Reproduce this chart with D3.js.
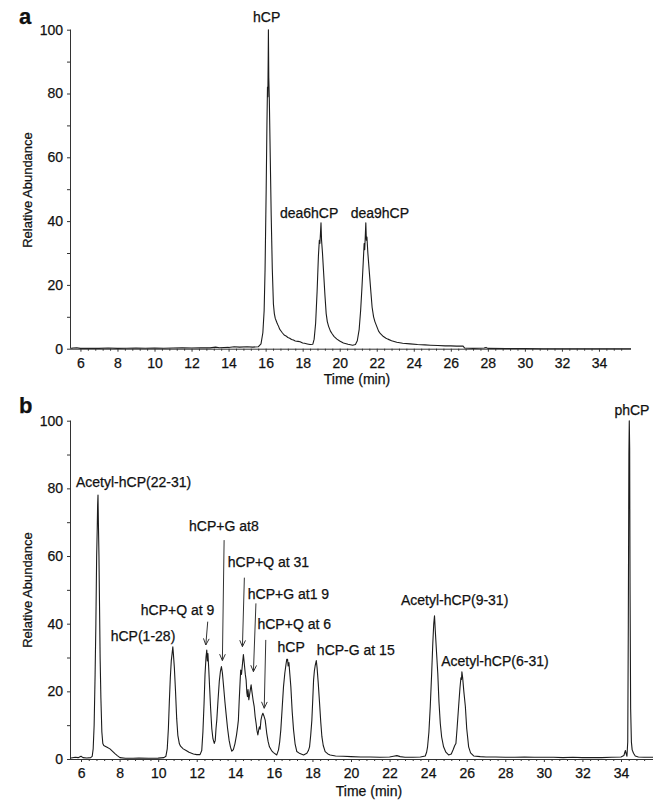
<!DOCTYPE html>
<html><head><meta charset="utf-8">
<script src="https://cdn.jsdelivr.net/npm/d3@7"></script>
<style>
body{margin:0;background:#fff}
text{font-family:"Liberation Sans",Arial,Helvetica,sans-serif;fill:#111;stroke:#111;stroke-width:0.25px}
</style>
</head><body>
<svg id="chart" width="669" height="809"></svg>
<script>
// ---------- DATA ----------
const xTicks = [6,8,10,12,14,16,18,20,22,24,26,28,30,32,34];
const yTicks = [0,20,40,60,80,100];
const yMinorTicks = [10,30,50,70,90];

// Panel a trace (time in min, relative abundance)
const timeA = [5.5,5.6,5.8,6.0,6.5,7.0,7.5,8.0,8.5,9.0,9.5,10.0,10.5,11.0,11.5,12.0,12.5,13.0,13.3,13.5,14.0,14.3,14.6,15.0,15.3,15.6,
 15.75,15.85,15.92,15.97,16.03,16.07,16.1,16.12,16.14,16.15,16.17,16.2,16.25,16.3,16.36,16.42,16.47,16.52,16.6,16.65,16.7,16.75,16.8,16.9,17.0,17.1,17.2,17.3,17.4,17.5,17.6,17.75,17.86,18.0,18.1,18.25,18.4,18.55,
 18.62,18.7,18.78,18.85,18.9,18.93,18.96,18.99,19.02,19.07,19.12,19.2,19.27,19.33,19.4,19.5,19.6,19.7,19.85,20.0,20.2,20.45,20.7,20.85,
 20.95,21.05,21.13,21.2,21.27,21.32,21.35,21.38,21.41,21.44,21.47,21.52,21.6,21.68,21.75,21.83,21.9,22.0,22.1,22.2,22.36,22.5,22.6,22.8,23.08,23.4,23.8,24.2,24.6,24.9,25.3,25.7,26.0,26.3,26.65,26.75,27.2,27.8,27.9,28.0,29.0,30.0,31.0,32.0,33.0,34.0,35.73];
const abundA = [0.1,0.2,0.3,0.1,0.15,0.1,0.2,0.1,0.15,0.2,0.15,0.2,0.15,0.2,0.25,0.2,0.3,0.25,0.5,0.3,0.4,0.6,0.5,0.6,0.5,0.6,
 1.5,5,12,25,50,70,82,79,92,100,85,78,60,42,25,14,11,9.5,8.3,7.6,7.0,6.2,5.8,5.0,4.3,4.0,3.5,3.3,2.9,2.7,2.4,2.3,2.2,1.8,1.7,1.5,1.3,1.4,
 3,8,18,29,34,33,36,39.5,34,30,25,17,11,8.5,7,5.5,4.6,3.8,3.0,2.4,1.8,1.4,1.1,1.3,
 2.5,6,12,19,27,33,31,35,39.5,34,35,30,24,18,13,10,8.5,7,5.5,4.7,3.8,3.3,3.0,2.5,2.0,1.7,1.5,1.3,1.2,1.1,1.0,0.9,0.9,0.8,0.85,0.2,0.1,0.2,0.4,0.1,0.05,0.05,0,0,0,0,0];

// Panel b trace
const timeB = [5.48,5.7,5.85,6.0,6.1,6.3,6.5,6.58,6.63,6.68,6.73,6.77,6.81,6.84,6.86,6.88,6.9,6.93,6.96,6.99,7.03,7.08,7.13,7.18,7.25,7.35,7.5,7.65,7.76,7.88,8.02,8.3,8.7,9.0,9.5,10.0,10.3,
 10.4,10.47,10.53,10.58,10.63,10.68,10.72,10.76,10.79,10.84,10.9,10.96,11.02,11.1,11.16,11.3,11.45,11.6,11.83,12.0,12.17,
 12.26,12.32,12.38,12.43,12.48,12.52,12.55,12.58,12.62,12.67,12.72,12.78,12.84,12.91,12.96,13.0,13.04,13.1,13.17,13.23,13.28,13.33,13.4,13.46,13.52,13.6,13.68,13.75,13.82,
 13.9,13.98,14.06,14.12,14.16,14.2,14.25,14.28,14.32,14.37,14.42,14.47,14.52,14.56,14.6,14.63,14.66,14.7,14.74,14.78,14.82,14.86,14.92,14.98,15.03,15.08,15.12,15.17,15.21,15.25,15.29,15.33,15.38,15.43,15.48,15.55,15.63,15.7,15.77,15.88,15.98,16.15,
 16.24,16.3,16.36,16.43,16.5,16.57,16.63,16.67,16.71,16.74,16.78,16.83,16.88,16.95,17.02,17.1,17.19,17.35,17.54,
 17.71,17.79,17.85,17.91,17.97,18.02,18.06,18.1,18.14,18.2,18.24,18.3,18.37,18.43,18.49,18.56,18.66,18.8,18.92,
 19.2,19.6,20.0,20.5,21.0,21.5,22.0,22.2,22.38,22.55,22.8,23.2,23.6,23.85,
 23.92,23.97,24.04,24.11,24.18,24.24,24.29,24.33,24.37,24.43,24.5,24.56,24.63,24.7,24.8,24.92,25.06,25.2,25.3,25.38,25.44,25.5,25.58,25.65,25.7,25.73,25.75,25.79,25.85,25.93,26.0,26.1,26.2,26.36,
 26.7,27.0,27.5,28.0,28.5,29.0,29.5,30.0,30.5,31.0,31.5,32.0,32.5,33.0,33.5,34.0,34.15,34.2,34.23,34.27,34.31,34.35,34.38,34.41,34.43,34.45,34.47,34.5,34.54,34.58,34.65,34.74,34.9,35.2,35.66];
const abundB = [0.3,0.5,0.4,0.8,0.4,0.3,0.4,0.8,3,10,25,40,60,68,75,78,70,60,45,30,18,8,4.6,4.0,3.8,3.5,3.0,2.2,1.6,1.0,0.4,0.2,0.2,0.25,0.2,0.25,0.4,
 0.8,3,9,17,24,29,31,33.2,31,27,20,12,7,4.5,3.8,3.0,2.5,2.0,1.5,1.3,1.3,
 2.5,8,16.5,25,30,32.2,29,31.2,27,21,15,9,6,4.6,5.5,9,11.5,17,23,26,27.3,25.5,21,17,13.5,9,5.5,3.5,2.3,
 2.8,4.5,7,9.5,11.5,17,23,26.3,25,28,30.9,28,25,23.4,19.5,18.4,20.5,17.5,19,20.5,21.9,20,17.5,15.5,12.5,10.5,8.5,7.1,8.5,9.5,8.8,11.5,12.8,13.5,12.8,11.5,7.6,5.2,3.6,2.5,1.9,1.2,
 2.7,5,8.6,15,21.4,25.5,28,29.5,29.5,27.5,28.5,25,21.4,14,8.6,4.5,2.2,1.6,1.2,
 1.7,2.5,3.6,7,11.5,18,23.4,26,27.5,29.1,27,22.5,16.5,11,6.6,4,2.2,1.5,1.2,
 0.9,0.8,0.7,0.6,0.6,0.5,0.6,0.8,1.0,0.7,0.5,0.5,0.6,0.9,
 2,3.6,8,15.5,25,34,40,42.3,38,32,25.3,17,10.5,6.5,3.6,2,1.2,1.5,2.8,4,4.6,9,15.5,21,24,23.5,25.8,24,20,15.5,9,3.6,1.8,0.9,
 0.7,0.6,0.6,0.5,0.5,0.6,0.5,0.5,0.5,0.4,0.5,0.4,0.4,0.4,0.5,0.6,1.0,2.0,2.5,1.5,0.8,5,40,90,100,92,50,15,5,2.7,1.7,0.9,0.6,0.5,0.5];

// Peak labels (text, time, abundance at text baseline)
const labelsA = ["hCP","dea6hCP","dea9hCP"];
const labelTimeA = [15.32,16.77,20.59];
const labelAbundA = [102.4,40.9,40.9];

const labelsB = ["Acetyl-hCP(22-31)","hCP(1-28)","hCP+Q at 9","hCP+G at8","hCP+Q at 31","hCP+G at1 9","hCP+Q at 6","hCP","hCP-G at 15","Acetyl-hCP(9-31)","Acetyl-hCP(6-31)","phCP"];
const labelTimeB = [5.74,7.54,9.10,11.60,13.61,14.65,15.15,16.19,18.23,22.59,24.68,33.66];
const labelAbundB = [80.5,35.0,42.6,67.5,56.8,47.3,38.3,31.7,30.7,45.5,27.5,101.7];
// Arrows (from time/abundance to time/abundance); null = no arrow
const arrowFromT = [null,null,12.57,13.42,14.47,15.07,15.58,null,null,null,null,null];
const arrowFromV = [null,null,40.6,64.7,53.6,46.0,35.2,null,null,null,null,null];
const arrowToT   = [null,null,12.47,13.33,14.37,14.94,15.50,null,null,null,null,null];
const arrowToV   = [null,null,33.7,29.1,33.2,25.8,15.0,null,null,null,null,null];

// ---------- DRAW ----------
const svg = d3.select("#chart");
const FONT = 14;

function panel(cfg){
  const x = d3.scaleLinear().domain(cfg.xDomain).range(cfg.xRange);
  const y = d3.scaleLinear().domain([0,100]).range(cfg.yRange);
  const g = svg.append("g");

  // trace
  const pts = cfg.times.map((t,i)=>[t,cfg.vals[i]]);
  g.append("path").datum(pts)
    .attr("fill","none").attr("stroke","#1c1c1c").attr("stroke-width",1.1)
    .attr("stroke-linejoin","round")
    .attr("d", d3.line().x(d=>x(d[0])).y(d=>y(d[1])));

  // x axis
  const xAxis = d3.axisBottom(x).tickValues(xTicks).tickSize(3).tickPadding(6).tickFormat(d3.format("d"));
  const xa = g.append("g").attr("transform",`translate(0,${cfg.yRange[0]})`).call(xAxis);
  const minor = d3.range(6,35.6,0.4).filter(v=>Math.abs(v-Math.round(v))>0.05 || Math.round(v)%2===1);
  const xm = g.append("g").attr("transform",`translate(0,${cfg.yRange[0]})`)
     .call(d3.axisBottom(x).tickValues(minor).tickSize(2).tickFormat(""));
  xm.select(".domain").remove();
  // y axis
  const yAxis = d3.axisLeft(y).tickValues(yTicks).tickSize(4).tickPadding(4);
  const ya = g.append("g").attr("transform",`translate(${cfg.xRange[0]},0)`).call(yAxis);
  const ym = g.append("g").attr("transform",`translate(${cfg.xRange[0]},0)`)
     .call(d3.axisLeft(y).tickValues(yMinorTicks).tickSize(4).tickFormat(""));
  ym.select(".domain").remove();
  [xa,xm,ya,ym].forEach(a=>{
    a.selectAll("path,line").attr("stroke","#333").attr("stroke-width",1);
    a.selectAll("text").style("font-size",FONT+"px").style("font-family","Liberation Sans, Arial, sans-serif").attr("fill","#111");
  });
  xa.select(".domain").attr("d",`M${cfg.xRange[0]},0.5H${cfg.xRange[1]}`);
  ya.select(".domain").attr("d",`M-0.5,${cfg.yRange[0]}V${cfg.yRange[1]}`);

  // axis titles
  g.append("text").attr("x",cfg.titleX).attr("y",cfg.titleY).attr("text-anchor","middle")
    .style("font-size","14px").text("Time (min)");
  g.append("text").attr("transform",`translate(32,${cfg.ylabY}) rotate(-90)`).attr("text-anchor","middle")
    .style("font-size","13px").text("Relative Abundance");
  // panel letter
  g.append("text").attr("x",19).attr("y",cfg.letterY).style("font-size","22px").style("font-weight","bold").text(cfg.letter);

  // labels
  cfg.labels.forEach((s,i)=>{
    g.append("text").attr("x",x(cfg.lt[i])).attr("y",y(cfg.lv[i])).style("font-size",FONT+"px").text(s);
  });
  if(cfg.af){
    cfg.af.forEach((ft,i)=>{
      if(ft===null) return;
      const x1=x(ft), y1=y(cfg.afv[i]), x2=x(cfg.at[i]), y2=y(cfg.atv[i]);
      g.append("line").attr("x1",x1).attr("y1",y1).attr("x2",x2).attr("y2",y2)
        .attr("stroke","#333").attr("stroke-width",1);
      const ang = Math.atan2(y2-y1,x2-x1);
      const L=7, W=0.42;
      const p1=[x2-L*Math.cos(ang-W), y2-L*Math.sin(ang-W)];
      const p2=[x2-L*Math.cos(ang+W), y2-L*Math.sin(ang+W)];
      g.append("path").attr("d",`M${p1}L${x2},${y2}L${p2}`).attr("fill","none")
        .attr("stroke","#333").attr("stroke-width",1);
    });
  }
}

panel({xDomain:[5.49,35.73], xRange:[71,631], yRange:[348.7,29.7], times:timeA, vals:abundA,
  titleX:357, titleY:384, ylabY:190, letter:"a", letterY:24,
  labels:labelsA, lt:labelTimeA, lv:labelAbundA});
panel({xDomain:[5.48,35.66], xRange:[71,653], yRange:[759,420.7], times:timeB, vals:abundB,
  titleX:369, titleY:796, ylabY:590, letter:"b", letterY:413,
  labels:labelsB, lt:labelTimeB, lv:labelAbundB,
  af:arrowFromT, afv:arrowFromV, at:arrowToT, atv:arrowToV});
</script>
</body></html>
